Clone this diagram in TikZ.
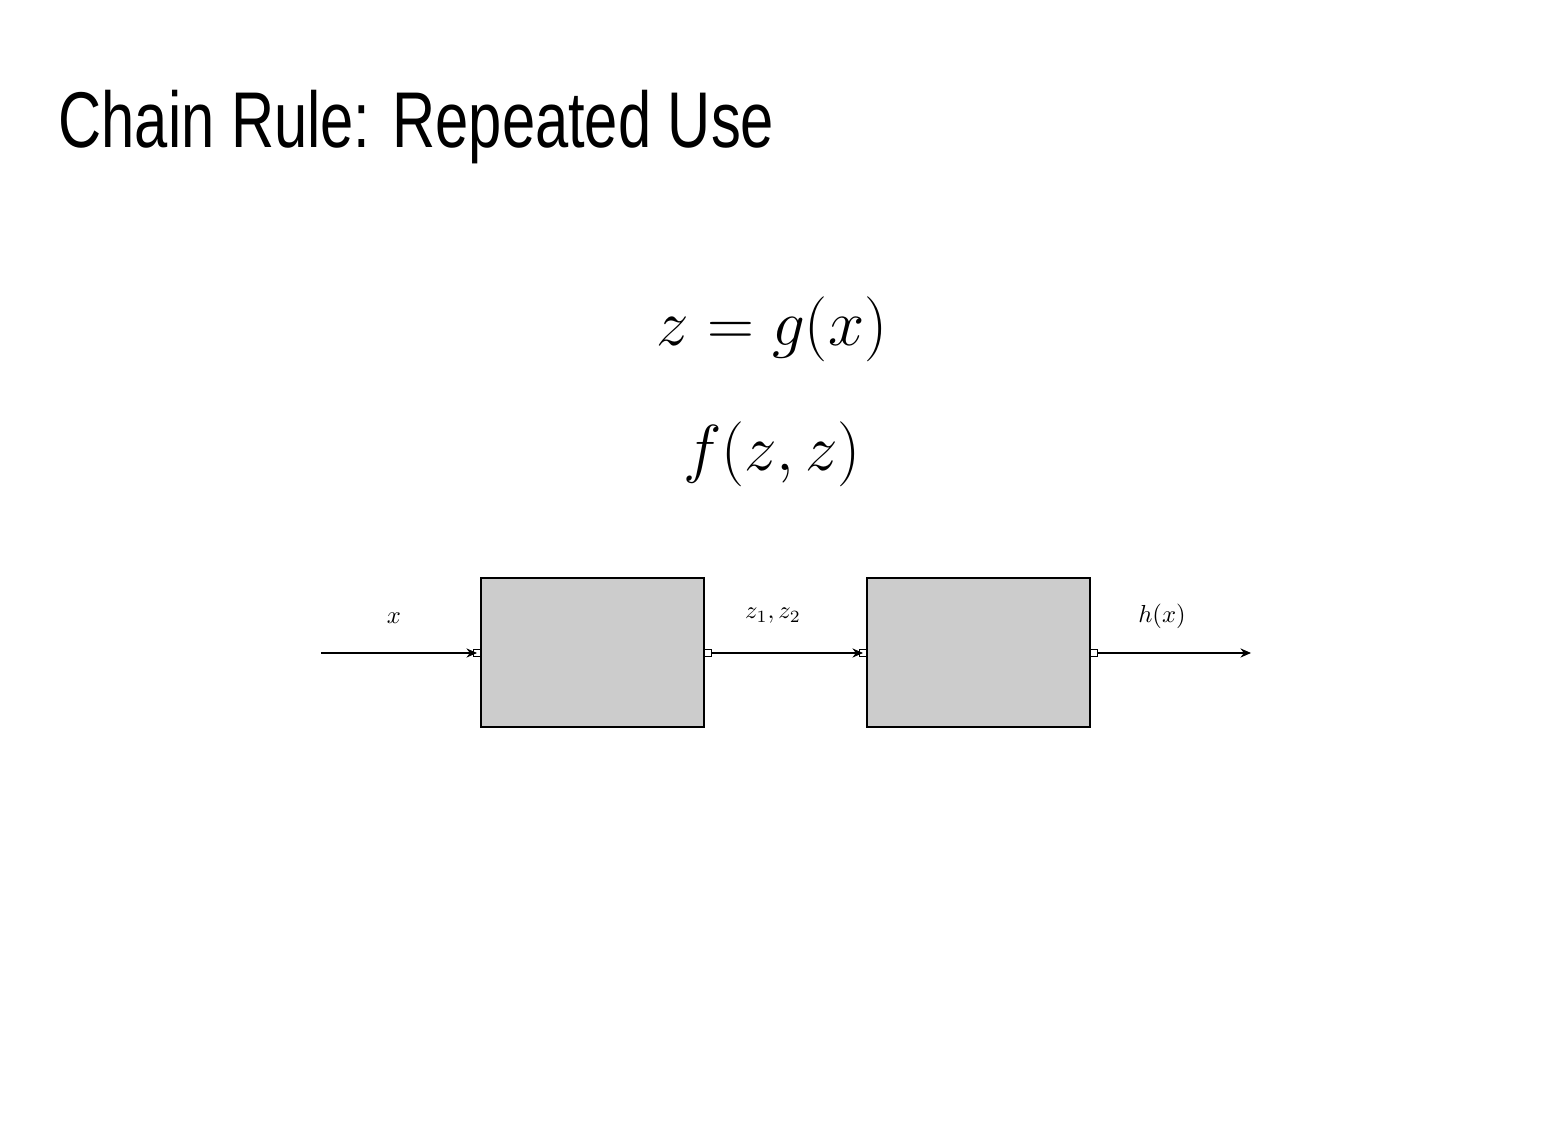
\RequirePackage{fix-cm}
\documentclass[tikz,border=0pt]{standalone}
\usepackage{fontspec}
\setmainfont{Liberation Sans}
\newfontfamily\titlefont[FakeStretch=0.755]{Liberation Sans}
\usetikzlibrary{arrows.meta}
\newcommand{\sigtxt}[1]{\scalebox{0.7}{$#1$}}
\tikzset{
  block/.style={draw, line width=0.6pt, fill=black!20, minimum width=2.23cm, minimum height=1.49cm, inner sep=0pt},
  port/.style={draw, line width=0.3pt, fill=white, minimum size=0.07cm, inner sep=0pt},
  sig/.style={inner sep=0pt}
}
\begin{document}
\begin{tikzpicture}[>={Stealth[length=3pt,width=2.6pt]}, line width=0.3pt]
\useasboundingbox (0,0) rectangle (15.61,-11.38);
\node (title) at (0.58,-1.27) [anchor=west, inner sep=0pt, font=\titlefont\fontsize{22.5}{26}\selectfont] {Chain Rule: Repeated Use};
\node (inner) at (7.72,-3.29) [font=\fontsize{18.5}{21}\selectfont] {$z = g(x)$};
\node (outer) at (7.72,-4.54) [font=\fontsize{18.5}{21}\selectfont] {$f(z,z)$};
% blocks
\node (g) at (5.925,-6.525) [block] {}; \node (f) at (9.785,-6.525) [block] {};
\node (gin) at (4.77,-6.53) [port] {}; \node (gout) at (7.08,-6.53) [port] {};
\node (fin) at (8.63,-6.53) [port] {}; \node (fout) at (10.94,-6.53) [port] {};
\coordinate (src) at (3.21,-6.53); \coordinate (snk) at (12.51,-6.53);
\draw[->] (src) -- (gin.center); \draw[->] (gout.east) -- (fin.center);
\draw[->] (fout.east) -- (snk);
% labels
\node (lx) at (3.94,-6.18) [sig] {\sigtxt{x}};
\node (lz) at (7.73,-6.16) [sig] {\sigtxt{z_1, z_2}};
\node (lh) at (11.62,-6.16) [sig] {\sigtxt{h(x)}};
\end{tikzpicture}
\end{document}
